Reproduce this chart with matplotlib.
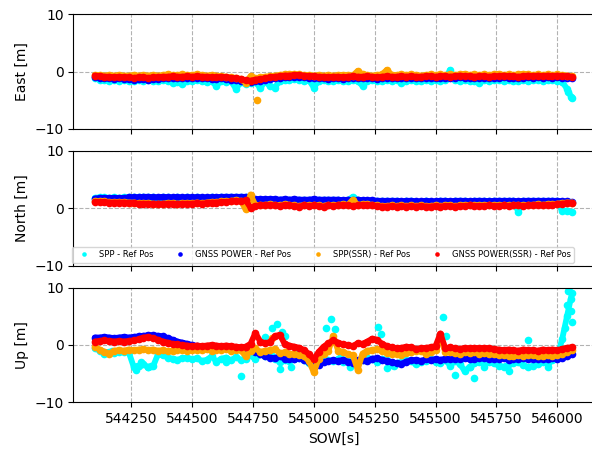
import numpy as np
import matplotlib
matplotlib.use("Agg")
import matplotlib.pyplot as plt
from matplotlib.ticker import MultipleLocator

# ---- data (20 s epochs, SOW) ----
sow = np.arange(544100, 546061, 20)

labels = ["SPP - Ref Pos", "GNSS POWER - Ref Pos", "SPP(SSR) - Ref Pos", "GNSS POWER(SSR) - Ref Pos"]
colors = ["cyan", "blue", "orange", "red"]

east_spp = [-1.2,-1.4,-1.5,-1.6,-1.5,-1.6,-1.5,-1.7,-1.6,-1.5,
            -1.6,-1.5,-1.6,-1.7,-1.5,-1.6,-2.0,-1.8,-2.2,-1.7,
            -1.6,-1.5,-1.6,-1.8,-1.7,-2.5,-1.6,-1.8,-1.7,-3.0,
            -1.9,-2.2,-2.0,-1.8,-2.9,-1.7,-2.6,-2.8,-1.6,-1.5,
            -1.4,-1.3,-1.4,-1.6,-1.5,-2.8,-1.6,-1.5,-1.7,-1.6,
            -1.5,-1.6,-1.7,-1.5,-1.6,-2.5,-1.6,-1.5,-1.7,-1.6,
            -1.5,-1.6,-1.5,-2.0,-1.6,-1.5,-1.6,-1.7,-1.5,-1.6,
            -1.5,-1.6,-1.4,0.3,-1.5,-1.6,-1.5,-1.7,-1.6,-2.0,
            -1.5,-1.6,-1.5,-1.4,-1.6,-1.5,-1.6,-1.7,-1.5,-1.6,
            -1.5,-1.4,-1.6,-1.5,-1.4,-1.6,-1.8,-3.0,-4.7]
east_power = [-1.0,-1.1,-1.2,-1.2,-1.3,-1.2,-1.3,-1.3,-1.4,-1.3,
              -1.3,-1.4,-1.3,-1.3,-1.2,-1.2,-1.1,-1.2,-1.2,-1.1,
              -1.2,-1.1,-1.2,-1.2,-1.3,-1.3,-1.2,-1.3,-1.4,-1.5,
              -1.6,-1.8,-1.9,-1.7,-1.6,-1.5,-1.3,-1.2,-1.1,-1.0,
              -1.0,-0.9,-0.9,-1.0,-1.1,-1.1,-1.2,-1.2,-1.3,-1.2,
              -1.2,-1.3,-1.2,-1.1,-1.2,-1.2,-1.1,-1.2,-1.3,-1.2,
              -1.1,-1.2,-1.2,-1.1,-1.2,-1.1,-1.2,-1.2,-1.1,-1.1,
              -1.2,-1.1,-1.1,-1.2,-1.1,-1.0,-1.1,-1.1,-1.2,-1.1,
              -1.1,-1.2,-1.1,-1.1,-1.0,-1.1,-1.1,-1.2,-1.1,-1.0,
              -1.1,-1.0,-1.1,-1.0,-1.1,-1.0,-1.1,-1.1,-1.2]
east_spp_ssr = [-0.6,-0.6,-0.7,-0.6,-0.7,-0.6,-0.7,-0.7,-0.6,-0.7,
                -0.6,-0.7,-0.6,-0.7,-0.6,-0.5,-0.6,-0.6,-0.5,-0.6,
                -0.6,-0.5,-0.6,-0.7,-0.6,-0.7,-0.8,-0.9,-1.0,-1.1,
                -1.3,-2.0,-0.8,-1.2,-1.0,-0.9,-0.8,-0.7,-0.6,-0.5,
                -0.5,-0.4,-0.5,-0.6,-0.6,-0.7,-0.6,-0.7,-0.6,-0.7,
                -0.6,-0.6,-0.6,-0.7,0.1,-0.5,-0.6,-0.7,-0.6,-0.5,
                0.3,-0.6,-0.6,-0.5,-0.6,-0.5,-0.6,-0.7,-0.6,-0.5,
                -0.6,-0.5,-0.6,-0.5,-0.6,-0.5,-0.4,-0.6,-0.5,-0.6,
                -0.5,-0.6,-0.5,-0.4,-0.6,-0.5,-0.6,-0.5,-0.4,-0.5,
                -0.6,-0.5,-0.6,-0.5,-0.6,-0.5,-0.6,-0.7,-0.8]
east_power_ssr = [-0.7,-0.8,-0.9,-0.9,-1.0,-0.9,-1.0,-1.0,-1.1,-1.0,
                  -1.0,-1.1,-1.0,-1.0,-0.9,-0.9,-0.8,-0.9,-0.9,-0.8,
                  -0.9,-0.8,-0.9,-0.9,-1.0,-1.0,-0.9,-1.0,-1.1,-1.2,
                  -1.3,-1.5,-1.6,-1.4,-1.3,-1.2,-1.0,-0.9,-0.8,-0.7,
                  -0.7,-0.6,-0.6,-0.7,-0.8,-0.8,-0.9,-0.9,-1.0,-0.9,
                  -0.9,-1.0,-0.9,-0.8,-0.9,-0.9,-0.8,-0.9,-1.0,-0.9,
                  -0.8,-0.9,-0.9,-0.8,-0.9,-0.8,-0.9,-0.9,-0.8,-0.8,
                  -0.9,-0.8,-0.8,-0.9,-0.8,-0.7,-0.8,-0.8,-0.9,-0.8,
                  -0.8,-0.9,-0.8,-0.8,-0.7,-0.8,-0.8,-0.9,-0.8,-0.7,
                  -0.8,-0.7,-0.8,-0.7,-0.8,-0.7,-0.8,-0.8,-0.9]

north_spp = [1.8,1.9,1.9,1.8,1.9,1.8,1.9,1.9,2.0,1.9,
             2.0,1.9,1.9,1.8,1.9,1.9,1.8,1.9,1.8,1.9,
             1.8,1.9,1.8,1.8,1.9,1.8,1.9,1.9,1.9,1.9,
             1.9,1.9,1.8,1.5,1.5,1.5,1.5,1.5,1.4,1.5,
             1.4,1.5,1.4,1.4,1.4,1.5,1.4,1.4,1.4,1.4,
             1.4,1.3,1.4,2.0,1.4,1.3,1.3,1.3,1.2,1.2,
             1.2,1.2,1.2,1.1,1.2,1.2,1.1,1.1,1.2,1.1,
             1.1,1.2,1.2,1.1,1.2,1.2,1.2,1.1,1.2,1.2,
             1.2,1.2,1.2,1.2,1.2,1.2,1.2,-0.6,1.2,1.2,
             1.2,1.2,1.2,1.2,1.2,1.2,-0.5,-0.4,-0.7]
north_power = [1.7,1.8,1.8,1.8,1.8,1.8,1.8,1.9,1.9,1.9,
               2.0,2.0,1.9,1.9,2.0,1.9,1.9,1.9,1.9,1.9,
               1.9,1.9,1.9,1.9,1.9,1.9,2.0,2.0,2.0,2.0,
               2.0,2.0,1.9,1.6,1.6,1.6,1.6,1.6,1.5,1.6,
               1.5,1.6,1.5,1.5,1.5,1.6,1.5,1.5,1.5,1.5,
               1.5,1.4,1.5,1.4,1.5,1.4,1.4,1.4,1.3,1.3,
               1.3,1.3,1.3,1.2,1.3,1.3,1.2,1.2,1.3,1.2,
               1.2,1.3,1.3,1.2,1.3,1.3,1.3,1.2,1.3,1.3,
               1.3,1.2,1.3,1.3,1.3,1.3,1.3,1.2,1.3,1.3,
               1.3,1.3,1.3,1.3,1.3,1.3,1.2,1.2,1.1]
north_spp_ssr = [1.2,1.2,1.2,1.1,1.1,1.1,1.1,1.0,1.0,0.9,
                 0.9,0.9,0.8,0.8,0.8,0.9,0.9,0.8,0.9,0.9,
                 0.9,1.0,0.9,1.0,1.1,1.1,1.2,1.2,1.3,1.4,
                 1.3,-0.2,2.4,0.5,0.6,0.6,0.7,0.6,0.5,0.7,
                 0.6,0.5,0.4,0.6,0.5,0.6,0.5,0.4,0.6,0.5,
                 0.6,0.7,0.6,1.5,0.6,0.7,0.7,0.6,0.5,0.4,
                 0.4,0.5,0.4,0.5,0.4,0.5,0.4,0.5,0.4,0.4,
                 0.5,0.4,0.5,0.5,0.4,0.5,0.5,0.6,0.5,0.5,
                 0.5,0.6,0.5,0.5,0.6,0.5,0.6,0.6,0.5,0.6,
                 0.6,0.7,0.6,0.7,0.7,0.8,0.9,1.0,1.0]
north_power_ssr = [1.1,1.1,1.1,1.0,1.0,1.0,1.0,0.9,0.9,0.8,
                   0.8,0.8,0.7,0.7,0.7,0.8,0.8,0.7,0.8,0.8,
                   0.8,0.9,0.8,0.9,1.0,1.0,1.1,1.1,1.2,1.3,
                   1.2,1.4,0.1,0.4,0.5,0.5,0.6,0.5,0.4,0.6,
                   0.5,0.4,0.3,0.5,0.4,0.5,0.4,0.3,0.5,0.4,
                   0.5,0.6,0.5,0.4,0.5,0.6,0.6,0.5,0.4,0.3,
                   0.3,0.4,0.3,0.4,0.3,0.4,0.3,0.4,0.3,0.3,
                   0.4,0.3,0.4,0.4,0.3,0.4,0.4,0.5,0.4,0.4,
                   0.4,0.5,0.4,0.4,0.5,0.4,0.5,0.5,0.4,0.5,
                   0.5,0.6,0.5,0.6,0.6,0.7,0.8,0.9,0.9]

up_spp = [-0.6,-1.0,-1.3,-1.2,-1.4,-1.3,-1.2,-1.3,-3.8,-3.6,
          -3.4,-3.9,-3.7,-1.6,-1.8,-2.2,-2.4,-2.6,-2.3,-2.2,
          -2.5,-2.3,-2.8,-2.6,-2.0,-2.9,-2.4,-2.2,-2.7,-2.1,
          -2.6,-2.4,-1.8,-2.5,-1.5,-2.0,-1.2,-2.4,-3.0,-2.6,
          -2.8,-2.5,-2.2,-2.7,-3.2,-3.8,-3.0,-2.4,-2.6,-2.8,
          -2.5,-2.9,-2.6,-3.2,-3.0,-2.6,-2.2,-2.5,-2.9,-2.4,
          -2.7,-3.5,-3.2,-3.0,-2.6,-2.8,-3.4,-3.0,-2.8,-2.5,
          -2.9,-3.2,-2.6,-3.6,-2.8,-3.3,-4.6,-3.8,-3.2,-3.0,
          -3.4,-3.0,-3.2,-3.6,-3.8,-3.4,-3.1,-3.0,-3.5,-3.9,
          -3.6,-3.4,-3.0,-3.2,-2.6,-2.0,1.0,5.0,9.0]
up_power = [1.3,1.3,1.4,1.3,1.2,1.3,1.4,1.3,1.4,1.5,
            1.6,1.7,1.7,1.6,1.5,1.2,0.9,0.6,0.4,0.2,
            0.0,-0.2,-0.3,-0.3,-0.2,-0.3,-0.4,-0.3,-0.4,-0.5,
            -0.6,-0.7,-0.8,-1.2,-1.6,-2.0,-2.2,-2.3,-2.0,-2.4,
            -2.5,-2.4,-2.3,-2.6,-3.0,-3.8,-3.5,-3.0,-2.8,-2.7,
            -2.8,-2.6,-2.9,-3.1,-2.7,-2.6,-2.8,-2.4,-2.3,-2.6,
            -2.8,-3.0,-3.2,-3.3,-2.9,-2.7,-2.6,-2.8,-2.5,-2.6,
            -2.5,-2.6,-2.4,-2.5,-2.5,-2.4,-2.3,-2.5,-2.4,-2.3,
            -2.3,-2.4,-2.5,-2.4,-2.3,-2.6,-2.5,-2.4,-2.3,-2.4,
            -2.4,-2.5,-2.4,-2.5,-2.3,-2.4,-2.2,-1.9,-1.6]
up_spp_ssr = [-0.3,-0.8,-1.2,-1.5,-1.0,-0.9,-1.0,-0.8,-0.9,-0.8,
              -0.7,-0.9,-0.8,-1.0,-0.9,-1.1,-1.0,-0.9,-0.8,-1.0,
              -0.9,-0.8,-0.9,-0.7,-1.0,-0.9,-0.8,-0.7,-1.0,-0.8,
              -0.9,-2.0,-1.0,-0.6,-1.2,-1.0,-0.9,-0.7,-1.4,-1.3,
              -1.5,-1.6,-1.8,-2.0,-2.8,-4.8,-2.4,-1.6,-1.0,1.6,
              -1.0,-1.2,-1.6,-1.8,-4.3,-1.5,-1.0,-0.9,-0.7,-1.1,
              -1.4,-1.5,-1.6,-1.7,-1.4,-1.2,-1.0,-1.1,-1.5,-1.2,
              -0.8,1.6,-1.3,-1.2,-1.4,-1.5,-1.3,-1.4,-1.2,-1.5,
              -1.4,-1.5,-1.6,-1.8,-1.7,-1.9,-2.0,-1.8,-1.9,-1.7,
              -1.8,-2.0,-1.9,-1.8,-1.9,-1.7,-1.5,-1.2,-0.9]
up_power_ssr = [0.6,0.7,0.8,0.7,0.6,0.7,0.6,0.7,0.8,1.0,
                1.3,1.4,1.2,0.9,0.6,0.4,0.2,0.1,0.0,-0.1,
                -0.2,-0.1,-0.2,-0.1,0.0,-0.1,-0.2,-0.1,-0.2,-0.3,
                -0.4,-0.3,0.2,2.1,0.6,0.3,0.5,1.5,1.8,0.2,
                -0.1,-0.3,-0.5,-0.9,-1.6,-2.5,-1.2,-0.3,0.3,0.8,
                0.4,0.1,0.0,-0.2,0.3,0.2,0.6,1.1,0.9,0.2,
                -0.2,-0.4,-0.6,-0.5,-0.3,-0.4,-0.7,-0.6,-0.5,-0.4,
                -0.2,2.0,-0.6,-0.4,-0.6,-0.7,-0.5,-0.6,-0.5,-0.6,
                -0.5,-0.6,-0.7,-0.8,-0.9,-0.8,-0.9,-1.0,-0.8,-0.9,
                -0.9,-1.0,-0.8,-0.9,-0.8,-0.9,-0.7,-0.5,-0.4]

# isolated epochs (SOW, value) per panel/series
east_spp_extra_t = [546045, 546055]
east_spp_extra_v = [-3.5, -4.5]
east_spp_ssr_extra_t = [544765]
east_spp_ssr_extra_v = [-5.0]
up_spp_extra_t = [544140, 544170, 544270, 544290, 544320, 544330, 544640, 544700, 544800, 544830,
                  544850, 544860, 544870, 544880, 544905, 544930, 545050, 545070, 545085, 545110,
                  545150, 545265, 545275, 545300, 545330, 545530, 545545, 545580, 545640, 545660,
                  545700, 545800, 545880, 545960, 546030, 546040, 546045, 546050, 546055, 546058,
                  546062]
up_spp_extra_v = [-1.6, -1.0, -4.3, -3.0, -3.8, -3.6, -2.9, -5.5, 1.4, 3.0,
                  3.6, -4.2, 2.2, 1.5, -3.8, -1.2, 3.0, 4.5, 2.8, -1.5,
                  -3.9, 3.1, 2.0, -4.0, -3.6, 4.8, 1.5, -5.3, -3.9, -5.7,
                  -3.8, -4.6, 0.8, -3.9, 3.0, 7.0, 9.5, 10.2, 8.0, 6.0,
                  4.0]
up_spp_ssr_extra_t = [544830]
up_spp_ssr_extra_v = [1.2]

panels = [
    ("East [m]", [east_spp, east_power, east_spp_ssr, east_power_ssr],
     {0: (east_spp_extra_t, east_spp_extra_v), 2: (east_spp_ssr_extra_t, east_spp_ssr_extra_v)}),
    ("North [m]", [north_spp, north_power, north_spp_ssr, north_power_ssr], {}),
    ("Up [m]", [up_spp, up_power, up_spp_ssr, up_power_ssr],
     {0: (up_spp_extra_t, up_spp_extra_v), 2: (up_spp_ssr_extra_t, up_spp_ssr_extra_v)}),
]

fig = plt.figure(figsize=(5.92, 4.5), dpi=100)
W, H = 592.0, 450.0
left_px, right_px = 73.3, 595.0
tops = [14.3, 151.0, 287.7]
hgt = 114.5
axes = []
for k, top in enumerate(tops):
    ax = fig.add_axes([left_px / W, 1 - (top + hgt) / H, (right_px - left_px) / W, hgt / H],
                      sharex=axes[0] if axes else None)
    axes.append(ax)

for ax, (ylab, series, extras) in zip(axes, panels):
    for j, (vals, c, lab) in enumerate(zip(series, colors, labels)):
        z = 2 + j * 0.1
        # dense track of the epochs
        ax.plot(sow, vals, '-', lw=4.2, color=c, solid_capstyle='round',
                solid_joinstyle='round', zorder=z)
        tt = list(sow)
        vv = list(vals)
        if j in extras:
            tt += list(extras[j][0])
            vv += list(extras[j][1])
        ax.plot(tt, vv, 'o', ls='none', ms=5.5, mec='none', color=c, label=lab, zorder=z)
    ax.set_ylim(-10, 10)
    ax.set_yticks([-10, 0, 10])
    ax.set_ylabel(ylab, fontsize=10)
    ax.grid(True, linestyle='--', color='gray', alpha=0.6, linewidth=0.8)
    ax.tick_params(labelsize=10)

axes[0].set_xlim(544012, 546155)
axes[0].xaxis.set_major_locator(MultipleLocator(250))
axes[2].ticklabel_format(axis='x', useOffset=False, style='plain')
for ax in axes[:2]:
    ax.tick_params(labelbottom=False)
axes[2].set_xlabel("SOW[s]", fontsize=10)

axes[1].legend(loc='lower left', ncol=4, fontsize=6, markerscale=0.6,
               bbox_to_anchor=(72.0 / W, 1 - 262.5 / H), bbox_transform=fig.transFigure,
               borderaxespad=0, columnspacing=2.2)

fig.savefig("out.png", dpi=100)
